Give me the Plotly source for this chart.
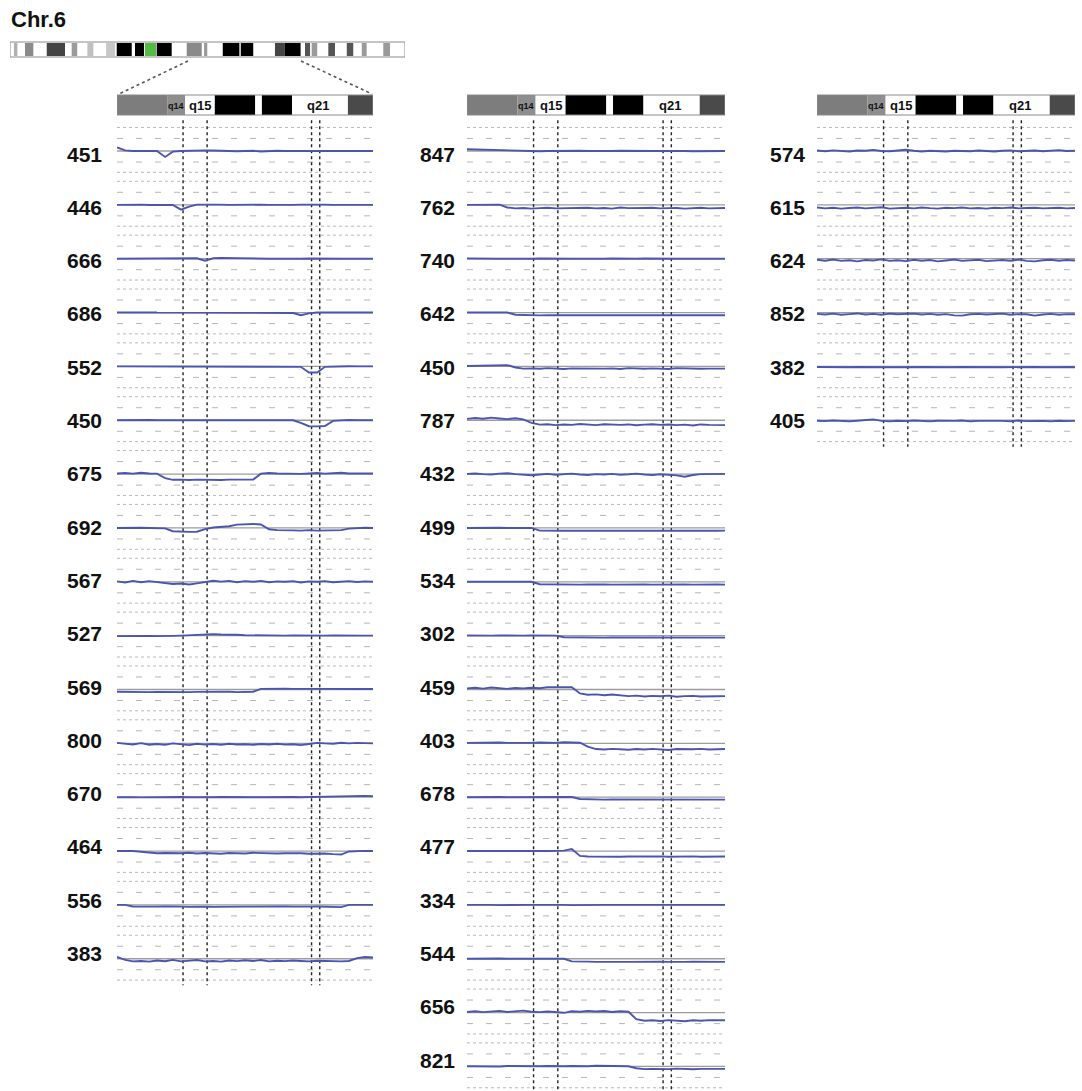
import plotly.graph_objects as go

W, H = 1082, 1091
PX = 22.0                 # pixels per log2-ratio unit
ROW = 53.85 / PX          # vertical offset between samples (in units)


def ypx(p):
    return (151 - p) / PX


# probe positions (Mb) inside the zoomed 6q region
POS = [80.0, 81.6, 83.1, 84.7, 86.3, 87.8, 89.4, 90.9, 92.5, 94.1, 95.6, 97.2, 98.8,
       100.3, 101.9, 103.4, 105.0, 106.6, 108.1, 109.7, 111.3, 112.8, 114.4, 115.9,
       117.5, 119.1, 120.6, 122.2, 123.8, 125.3, 126.9, 128.4, 130.0]

VLINES = [92.9, 97.6, 118.0, 119.6]

# ---------------- column 1 ----------------
COL1_LABELS = ["451", "446", "666", "686", "552", "450", "675", "692", "567", "527",
               "569", "800", "670", "464", "556", "383"]
C1_451 = [0.16, 0.03, 0.0, -0.01, 0.01, 0.0, -0.27, -0.03, 0.0, 0.02, 0.01, 0.03, 0.02, 0.0, 0.01, -0.01, 0.0, 0.01, -0.02, 0.0, 0.01, 0.0, 0.0, 0.01, 0.02, 0.01, 0.0, 0.01, 0.0, -0.01, 0.0, 0.0, 0.0]
C1_446 = [0.0, 0.01, 0.0, 0.01, -0.01, 0.0, 0.01, 0.0, -0.22, -0.08, 0.01, 0.02, 0.0, 0.01, 0.0, 0.01, 0.02, 0.0, 0.01, 0.0, -0.01, 0.01, 0.0, 0.01, 0.02, 0.0, 0.01, 0.0, 0.0, 0.01, 0.0, 0.01, 0.0]
C1_666 = [0.0, 0.0, 0.01, 0.0, -0.01, 0.0, 0.0, 0.01, 0.0, 0.0, 0.02, -0.09, 0.02, 0.03, 0.02, 0.01, 0.0, 0.0, 0.01, 0.0, 0.0, -0.01, 0.0, 0.0, 0.01, 0.0, 0.0, 0.01, 0.0, 0.0, 0.01, 0.0, 0.0]
C1_686 = [0.0, 0.01, 0.0, 0.0, 0.01, 0.0, 0.0, -0.01, 0.0, 0.01, 0.0, 0.0, 0.01, 0.0, 0.0, 0.01, 0.0, 0.0, -0.01, 0.0, 0.0, 0.01, -0.02, -0.12, -0.04, 0.0, 0.01, 0.0, 0.0, 0.01, 0.0, 0.0, 0.0]
C1_552 = [0.0, 0.0, 0.01, 0.0, 0.0, 0.0, 0.01, 0.0, 0.0, 0.0, 0.01, 0.0, 0.0, 0.01, 0.0, 0.0, 0.0, 0.01, 0.0, 0.0, 0.0, 0.01, 0.0, -0.02, -0.28, -0.28, -0.02, 0.0, 0.0, 0.01, 0.0, 0.0, 0.0]
C1_450 = [0.0, 0.01, 0.0, 0.0, 0.01, 0.0, 0.0, 0.01, 0.0, 0.0, 0.01, 0.0, 0.02, 0.01, 0.0, 0.0, 0.01, 0.0, 0.0, 0.01, 0.0, 0.0, 0.0, -0.12, -0.27, -0.28, -0.26, -0.03, 0.0, 0.01, 0.0, 0.01, 0.0]
C1_675 = [0.03, 0.05, 0.02, 0.06, 0.03, 0.02, -0.18, -0.26, -0.25, -0.27, -0.25, -0.26, -0.24, -0.27, -0.25, -0.26, -0.24, -0.25, 0.02, 0.05, 0.03, 0.02, 0.04, 0.01, 0.03, 0.05, 0.02, 0.04, 0.06, 0.03, 0.02, 0.04, 0.03]
C1_692 = [0.0, 0.01, 0.0, 0.01, 0.0, 0.0, -0.02, -0.15, -0.18, -0.18, -0.17, -0.05, 0.02, 0.05, 0.08, 0.15, 0.17, 0.18, 0.16, -0.06, -0.1, -0.12, -0.11, -0.12, -0.1, -0.12, -0.11, -0.12, -0.1, -0.03, 0.0, 0.01, 0.0]
C1_567 = [0.02, -0.03, 0.04, -0.02, 0.03, -0.01, -0.06, -0.1, -0.08, -0.12, -0.07, -0.02, 0.05, 0.01, 0.04, -0.02, 0.03, 0.0, 0.04, -0.02, 0.02, 0.0, 0.03, -0.03, 0.02, 0.0, 0.03, -0.02, 0.01, 0.03, -0.01, 0.02, 0.0]
C1_527 = [-0.02, -0.01, -0.02, 0.0, -0.01, -0.02, 0.0, -0.01, 0.0, 0.02, 0.03, 0.06, 0.07, 0.05, 0.06, 0.04, 0.02, 0.01, 0.02, 0.0, 0.01, 0.0, 0.01, 0.0, 0.0, 0.01, 0.0, 0.01, 0.0, 0.0, -0.01, 0.0, 0.0]
C1_569 = [-0.1, -0.11, -0.12, -0.1, -0.12, -0.11, -0.12, -0.1, -0.11, -0.12, -0.11, -0.1, -0.12, -0.11, -0.1, -0.12, -0.11, -0.1, 0.03, 0.04, 0.03, 0.04, 0.03, 0.02, 0.04, 0.03, 0.03, 0.02, 0.04, 0.03, 0.02, 0.03, 0.02]
C1_800 = [0.02, -0.03, -0.05, 0.01, -0.06, -0.03, -0.07, 0.0, -0.05, -0.08, -0.02, -0.06, -0.03, -0.07, -0.02, -0.05, -0.04, -0.07, -0.03, -0.05, -0.02, -0.06, -0.04, -0.08, -0.03, 0.02, 0.0, -0.02, 0.03, 0.0, 0.02, 0.01, 0.0]
C1_670 = [0.0, 0.01, 0.0, -0.01, 0.0, 0.01, 0.0, 0.0, 0.01, 0.0, -0.01, 0.0, 0.0, 0.01, 0.0, 0.0, 0.01, 0.0, 0.0, 0.01, 0.0, 0.0, 0.01, 0.0, 0.01, 0.0, 0.02, 0.01, 0.03, 0.04, 0.05, 0.06, 0.05]
C1_464 = [0.0, 0.01, 0.0, -0.03, -0.08, -0.1, -0.09, -0.11, -0.1, -0.08, -0.11, -0.09, -0.1, -0.12, -0.09, -0.1, -0.11, -0.08, -0.1, -0.09, -0.11, -0.1, -0.09, -0.1, -0.12, -0.1, -0.11, -0.14, -0.16, -0.02, 0.0, 0.01, 0.0]
C1_556 = [0.0, 0.0, -0.07, -0.08, -0.09, -0.08, -0.07, -0.09, -0.08, -0.09, -0.07, -0.08, -0.09, -0.08, -0.07, -0.09, -0.08, -0.08, -0.07, -0.09, -0.08, -0.07, -0.08, -0.09, -0.08, -0.07, -0.09, -0.08, -0.1, 0.0, 0.01, 0.0, 0.0]
C1_383 = [0.08, -0.05, -0.12, -0.1, -0.13, -0.08, -0.11, -0.05, -0.12, -0.09, -0.06, -0.12, -0.1, -0.13, -0.08, -0.11, -0.07, -0.1, -0.06, -0.12, -0.09, -0.11, -0.08, -0.1, -0.12, -0.09, -0.11, -0.1, -0.12, -0.1, 0.03, 0.08, 0.06]
COL1_VALUES = [C1_451, C1_446, C1_666, C1_686, C1_552, C1_450, C1_675, C1_692, C1_567,
               C1_527, C1_569, C1_800, C1_670, C1_464, C1_556, C1_383]

# ---------------- column 2 ----------------
COL2_LABELS = ["847", "762", "740", "642", "450", "787", "432", "499", "534", "302",
               "459", "403", "678", "477", "334", "544", "656", "821"]
C2_847 = [0.08, 0.07, 0.06, 0.05, 0.02, 0.0, 0.01, 0.0, 0.0, -0.01, 0.0, 0.01, 0.0, 0.0, 0.01, 0.0, -0.01, 0.0, 0.0, 0.01, 0.0, 0.0, -0.01, 0.0, 0.0, 0.01, 0.0, 0.0, -0.01, 0.0, 0.0, 0.0, 0.0]
C2_762 = [0.0, 0.01, 0.0, 0.0, 0.01, -0.12, -0.16, -0.14, -0.17, -0.15, -0.13, -0.16, -0.15, -0.17, -0.14, -0.13, -0.16, -0.14, -0.17, -0.12, -0.15, -0.16, -0.14, -0.13, -0.16, -0.15, -0.14, -0.17, -0.15, -0.13, -0.16, -0.15, -0.14]
C2_740 = [0.01, 0.0, 0.0, 0.01, 0.0, 0.0, -0.01, 0.0, 0.0, 0.01, 0.0, 0.0, 0.01, 0.0, 0.0, -0.01, 0.0, 0.0, 0.01, 0.0, 0.0, 0.0, 0.01, 0.0, 0.0, -0.01, 0.0, 0.0, 0.01, 0.0, 0.0, 0.0, 0.0]
C2_642 = [0.0, 0.0, 0.01, 0.0, 0.0, 0.0, -0.1, -0.12, -0.12, -0.13, -0.12, -0.12, -0.13, -0.12, -0.12, -0.12, -0.13, -0.12, -0.12, -0.12, -0.13, -0.12, -0.12, -0.12, -0.13, -0.12, -0.12, -0.13, -0.12, -0.12, -0.12, -0.13, -0.12]
C2_450 = [0.02, 0.03, 0.02, 0.02, 0.03, 0.06, -0.05, -0.1, -0.09, -0.11, -0.08, -0.1, -0.12, -0.09, -0.1, -0.08, -0.11, -0.1, -0.09, -0.12, -0.08, -0.1, -0.11, -0.09, -0.1, -0.12, -0.08, -0.1, -0.09, -0.11, -0.1, -0.09, -0.1]
C2_787 = [0.06, 0.1, 0.07, 0.12, 0.08, 0.05, 0.09, 0.04, -0.12, -0.2, -0.18, -0.22, -0.19, -0.21, -0.17, -0.2, -0.22, -0.18, -0.2, -0.21, -0.19, -0.23, -0.2, -0.18, -0.21, -0.19, -0.22, -0.2, -0.24, -0.19, -0.21, -0.2, -0.22]
C2_432 = [0.01, 0.03, 0.0, -0.02, 0.02, 0.04, 0.0, -0.03, -0.05, -0.02, 0.01, -0.03, -0.01, 0.02, -0.02, -0.04, 0.0, -0.02, 0.01, -0.03, -0.01, 0.02, -0.02, -0.04, -0.01, -0.03, -0.06, -0.12, -0.04, 0.0, 0.01, 0.0, 0.01]
C2_499 = [0.0, 0.01, 0.0, 0.0, 0.01, 0.0, 0.0, 0.01, 0.0, -0.12, -0.13, -0.14, -0.13, -0.12, -0.14, -0.13, -0.12, -0.13, -0.14, -0.13, -0.12, -0.13, -0.14, -0.13, -0.12, -0.13, -0.14, -0.13, -0.12, -0.13, -0.14, -0.13, -0.12]
C2_534 = [0.0, 0.0, 0.01, 0.0, 0.0, 0.01, 0.0, 0.0, 0.0, -0.11, -0.12, -0.13, -0.12, -0.12, -0.13, -0.12, -0.11, -0.12, -0.13, -0.12, -0.12, -0.11, -0.12, -0.13, -0.12, -0.12, -0.11, -0.12, -0.13, -0.12, -0.12, -0.12, -0.13]
C2_302 = [0.01, 0.0, 0.01, 0.0, 0.01, 0.0, 0.01, 0.0, 0.01, 0.0, 0.01, 0.0, -0.07, -0.08, -0.09, -0.08, -0.08, -0.09, -0.08, -0.08, -0.09, -0.08, -0.08, -0.09, -0.08, -0.08, -0.09, -0.08, -0.08, -0.09, -0.08, -0.08, -0.09]
C2_459 = [0.05, 0.08, 0.04, 0.09, 0.06, 0.03, 0.07, 0.05, 0.08, 0.06, 0.1, 0.11, 0.12, 0.1, -0.18, -0.24, -0.22, -0.26, -0.23, -0.25, -0.3, -0.28, -0.32, -0.29, -0.31, -0.28, -0.33, -0.3, -0.29, -0.32, -0.3, -0.31, -0.3]
C2_403 = [0.02, 0.03, 0.01, 0.02, 0.04, 0.02, 0.01, 0.03, 0.02, 0.04, 0.03, 0.02, 0.05, 0.04, 0.03, -0.15, -0.26, -0.28, -0.25, -0.27, -0.29, -0.26, -0.28, -0.25, -0.27, -0.3, -0.26, -0.28, -0.27, -0.25, -0.28, -0.27, -0.26]
C2_678 = [0.0, 0.01, 0.0, 0.0, 0.01, 0.0, 0.0, 0.01, 0.0, 0.0, 0.01, 0.0, 0.0, 0.01, -0.08, -0.1, -0.1, -0.11, -0.1, -0.1, -0.11, -0.1, -0.1, -0.11, -0.1, -0.1, -0.11, -0.1, -0.1, -0.11, -0.1, -0.1, -0.11]
C2_477 = [0.0, 0.01, 0.0, 0.0, 0.01, 0.0, 0.01, 0.0, 0.0, 0.01, 0.0, 0.0, 0.02, 0.09, -0.22, -0.25, -0.26, -0.24, -0.25, -0.26, -0.25, -0.24, -0.26, -0.25, -0.24, -0.26, -0.25, -0.25, -0.24, -0.26, -0.25, -0.24, -0.25]
C2_334 = [0.0, 0.01, 0.0, 0.0, -0.01, 0.0, 0.01, 0.0, 0.0, 0.0, 0.01, 0.0, 0.0, -0.01, 0.0, 0.0, 0.01, 0.0, 0.0, 0.0, 0.01, 0.0, 0.0, -0.01, 0.0, 0.0, 0.01, 0.0, 0.0, 0.0, 0.01, 0.0, 0.0]
C2_544 = [0.0, 0.01, 0.0, 0.0, 0.01, 0.0, 0.0, 0.01, 0.0, 0.0, 0.01, 0.0, 0.0, -0.12, -0.14, -0.13, -0.14, -0.15, -0.13, -0.14, -0.14, -0.13, -0.15, -0.14, -0.13, -0.14, -0.15, -0.14, -0.13, -0.14, -0.14, -0.13, -0.14]
C2_656 = [0.03, 0.06, 0.02, 0.05, 0.08, 0.03, 0.06, 0.09, 0.04, 0.02, 0.05, 0.03, -0.01, 0.06, 0.04, 0.08, 0.05, 0.07, 0.03, 0.06, 0.04, -0.3, -0.37, -0.35, -0.38, -0.34, -0.36, -0.39, -0.35, -0.37, -0.34, -0.36, -0.35]
C2_821 = [0.01, 0.0, 0.02, 0.01, 0.0, 0.02, 0.01, 0.03, 0.0, 0.01, 0.02, 0.0, 0.01, 0.02, 0.0, 0.01, 0.03, 0.02, 0.01, 0.0, 0.01, -0.08, -0.12, -0.11, -0.13, -0.12, -0.1, -0.12, -0.13, -0.11, -0.12, -0.12, -0.11]
COL2_VALUES = [C2_847, C2_762, C2_740, C2_642, C2_450, C2_787, C2_432, C2_499, C2_534,
               C2_302, C2_459, C2_403, C2_678, C2_477, C2_334, C2_544, C2_656, C2_821]

# ---------------- column 3 ----------------
COL3_LABELS = ["574", "615", "624", "852", "382", "405"]
C3_574 = [0.02, -0.01, 0.03, 0.0, -0.02, 0.02, 0.01, 0.05, 0.0, -0.01, 0.02, 0.06, 0.01, -0.02, 0.01, 0.0, -0.02, 0.01, 0.0, -0.01, 0.02, 0.0, -0.02, 0.01, 0.03, -0.01, 0.0, 0.02, -0.01, 0.01, 0.04, 0.0, 0.01]
C3_615 = [-0.12, -0.16, -0.13, -0.17, -0.14, -0.12, -0.16, -0.15, -0.11, -0.17, -0.14, -0.13, -0.16, -0.12, -0.15, -0.17, -0.13, -0.15, -0.12, -0.16, -0.14, -0.17, -0.13, -0.15, -0.12, -0.16, -0.14, -0.13, -0.16, -0.15, -0.13, -0.16, -0.14]
C3_624 = [-0.05, -0.09, -0.04, -0.1, -0.07, -0.12, -0.06, -0.08, -0.03, -0.1, -0.07, -0.11, -0.05, -0.09, -0.06, -0.12, -0.08, -0.04, -0.1, -0.07, -0.05, -0.11, -0.08, -0.06, -0.09, -0.04, -0.1, -0.12, -0.07, -0.05, -0.09, -0.06, -0.08]
C3_852 = [-0.06, -0.09, -0.05, -0.1, -0.07, -0.04, -0.09, -0.06, -0.1, -0.05, -0.08, -0.07, -0.05, -0.09, -0.06, -0.1, -0.07, -0.13, -0.14, -0.08, -0.06, -0.09, -0.07, -0.05, -0.1, -0.07, -0.08, -0.14, -0.09, -0.06, -0.1, -0.07, -0.08]
C3_382 = [-0.03, -0.04, -0.03, -0.05, -0.04, -0.03, -0.04, -0.05, -0.03, -0.04, -0.04, -0.03, -0.05, -0.04, -0.03, -0.04, -0.05, -0.04, -0.03, -0.04, -0.05, -0.03, -0.04, -0.04, -0.03, -0.05, -0.04, -0.03, -0.04, -0.05, -0.04, -0.03, -0.04]
C3_405 = [-0.02, -0.04, -0.01, -0.03, -0.05, -0.02, 0.02, 0.04, -0.03, -0.05, -0.02, -0.04, -0.01, -0.03, -0.05, -0.02, -0.04, -0.03, -0.01, -0.05, -0.03, -0.02, -0.04, -0.03, -0.05, -0.01, -0.04, -0.02, -0.03, -0.05, -0.02, -0.04, -0.03]
COL3_VALUES = [C3_574, C3_615, C3_624, C3_852, C3_382, C3_405]

# zoomed ideogram bands (Mb) and colours
ZOOM_BAND_EDGES = [80.0, 89.8, 93.3, 99.1, 107.0, 108.3, 114.2, 125.1, 130.0]
ZOOM_BAND_COLORS = ["#7d7d7d", "#8e8e8e", "#ffffff", "#000000", "#ffffff", "#000000", "#ffffff", "#4a4a4a"]
ZOOM_BAND_TEXT = [("q14", 91.5, 9), ("q15", 96.3, 13), ("q21", 119.3, 13)]

# whole chromosome 6 ideogram bands (Mb start, Mb end, colour)
CHR_START = [1.7, 6.5, 15.9, 26.7, 33.5, 41.6, 46.2, 54.1, 58.4, 63.5, 76.5, 84.0, 92.1,
             99.9, 114.7, 119.0, 127.7, 130.6, 137.8, 145.8, 152.3, 161.6]
CHR_END = [3.2, 10.1, 23.8, 29.1, 36.1, 45.5, 52.7, 58.0, 63.2, 70.0, 83.0, 85.4, 99.3,
           105.3, 119.0, 125.8, 129.9, 133.0, 140.7, 148.6, 154.4, 164.5]
CHR_COLOR = ["#b0b0b0", "#8a8a8a", "#444444", "#9a9a9a", "#c0c0c0", "#c8c8c8", "#000000",
             "#000000", "#55bb44", "#000000", "#8a8a8a", "#9a9a9a", "#000000", "#000000",
             "#444444", "#000000", "#555555", "#9a9a9a", "#555555", "#555555", "#9a9a9a",
             "#9a9a9a"]
CHR_LEN = 171.0

COLUMNS = [
    (COL1_LABELS, COL1_VALUES, "x", (117, 373), 104),
    (COL2_LABELS, COL2_VALUES, "x2", (467, 725), 457),
    (COL3_LABELS, COL3_VALUES, "x3", (817, 1075), 807),
]

BLUE = "#4b55b0"
fig = go.Figure()
shapes = []
annotations = []

for labels, values, xa, (px0, px1), lab_right in COLUMNS:
    n = len(labels)
    x_lo, x_hi = POS[0], POS[-1]
    dense_x, dense_y, sparse_x, sparse_y, base_x, base_y = [], [], [], [], [], []
    for i in range(n):
        c = -ROW * i
        for off in (1.07, -0.97):
            dense_x += [x_lo, x_hi, None]
            dense_y += [c + off, c + off, None]
        for off in (0.57, -0.5):
            sparse_x += [x_lo, x_hi, None]
            sparse_y += [c + off, c + off, None]
        base_x += [x_lo, x_hi, None]
        base_y += [c, c, None]
    fig.add_trace(go.Scatter(x=dense_x, y=dense_y, xaxis=xa, yaxis="y", mode="lines",
                             line=dict(color="#b9b9b9", width=1, dash="3px,3px"),
                             hoverinfo="skip", showlegend=False))
    fig.add_trace(go.Scatter(x=sparse_x, y=sparse_y, xaxis=xa, yaxis="y", mode="lines",
                             line=dict(color="#b6b6b6", width=1, dash="6px,13px"),
                             hoverinfo="skip", showlegend=False))
    fig.add_trace(go.Scatter(x=base_x, y=base_y, xaxis=xa, yaxis="y", mode="lines",
                             line=dict(color="#9c9c9c", width=1.3),
                             hoverinfo="skip", showlegend=False))
    # vertical dashed boundaries
    vx, vy = [], []
    for v in VLINES:
        vx += [v, v, None]
        vy += [1.4, -ROW * (n - 1) - 1.2, None]
    fig.add_trace(go.Scatter(x=vx, y=vy, xaxis=xa, yaxis="y", mode="lines",
                             line=dict(color="#222222", width=1.4, dash="3px,3px"),
                             hoverinfo="skip", showlegend=False))
    # sample traces
    for i, (lab, vals) in enumerate(zip(labels, values)):
        fig.add_trace(go.Scatter(x=POS, y=[-ROW * i + v for v in vals], xaxis=xa, yaxis="y",
                                 mode="lines", line=dict(color=BLUE, width=1.9),
                                 name=lab, showlegend=False))
        annotations.append(dict(x=lab_right / W, xref="paper", xanchor="right",
                                y=ypx(154 + 53.3 * i), yref="y", yanchor="middle",
                                text=lab, showarrow=False,
                                font=dict(family="Liberation Sans, Arial", size=21,
                                          color="#111111", weight="bold")))
    # zoomed ideogram
    for j, col in enumerate(ZOOM_BAND_COLORS):
        shapes.append(dict(type="rect", xref=xa, yref="y",
                           x0=ZOOM_BAND_EDGES[j], x1=ZOOM_BAND_EDGES[j + 1],
                           y0=ypx(115), y1=ypx(95), fillcolor=col,
                           line=dict(width=0), layer="above"))
    shapes.append(dict(type="rect", xref=xa, yref="y", x0=ZOOM_BAND_EDGES[0],
                       x1=ZOOM_BAND_EDGES[-1], y0=ypx(115), y1=ypx(95),
                       line=dict(color="#8a8a8a", width=1), layer="above"))
    for txt, xm, fs in ZOOM_BAND_TEXT:
        annotations.append(dict(x=xm, xref=xa, y=ypx(105.5), yref="y", text=txt,
                                showarrow=False, xanchor="center", yanchor="middle",
                                font=dict(family="Liberation Sans, Arial", size=fs,
                                          color="#111111", weight="bold")))

# whole chromosome ideogram on x4
shapes.append(dict(type="rect", xref="x4", yref="y", x0=0, x1=CHR_LEN,
                   y0=ypx(57), y1=ypx(42), fillcolor="#ffffff",
                   line=dict(color="#8a8a8a", width=1)))
for s, e, c in zip(CHR_START, CHR_END, CHR_COLOR):
    shapes.append(dict(type="rect", xref="x4", yref="y", x0=s, x1=e,
                       y0=ypx(56), y1=ypx(43), fillcolor=c, line=dict(width=0)))

# zoom connector lines
for (xa_, ya_, xb_, yb_) in [(188, 61, 119, 94), (301, 61, 372, 94)]:
    shapes.append(dict(type="line", xref="paper", yref="paper",
                       x0=xa_ / W, y0=1 - ya_ / H, x1=xb_ / W, y1=1 - yb_ / H,
                       line=dict(color="#555555", width=1.6, dash="3px,3px")))

annotations.append(dict(x=9 / W, xref="paper", xanchor="left", y=1 - 20 / H, yref="paper",
                        yanchor="middle", text="Chr.6", showarrow=False,
                        font=dict(family="Liberation Sans, Arial", size=22,
                                  color="#111111", weight="bold")))

ax_common = dict(visible=False, showgrid=False, zeroline=False, fixedrange=True)
fig.update_layout(
    width=W, height=H,
    margin=dict(l=0, r=0, t=0, b=0),
    paper_bgcolor="white", plot_bgcolor="rgba(0,0,0,0)",
    showlegend=False,
    xaxis=dict(domain=[117 / W, 373 / W], range=[POS[0], POS[-1]], anchor="y", **ax_common),
    xaxis2=dict(domain=[467 / W, 725 / W], range=[POS[0], POS[-1]], anchor="y", **ax_common),
    xaxis3=dict(domain=[817 / W, 1075 / W], range=[POS[0], POS[-1]], anchor="y", **ax_common),
    xaxis4=dict(domain=[10 / W, 405 / W], range=[0, CHR_LEN], anchor="y", **ax_common),
    yaxis=dict(domain=[0, 1], range=[ypx(H), ypx(0)], **ax_common),
    shapes=shapes,
    annotations=annotations,
)

fig.write_html("out.html")
